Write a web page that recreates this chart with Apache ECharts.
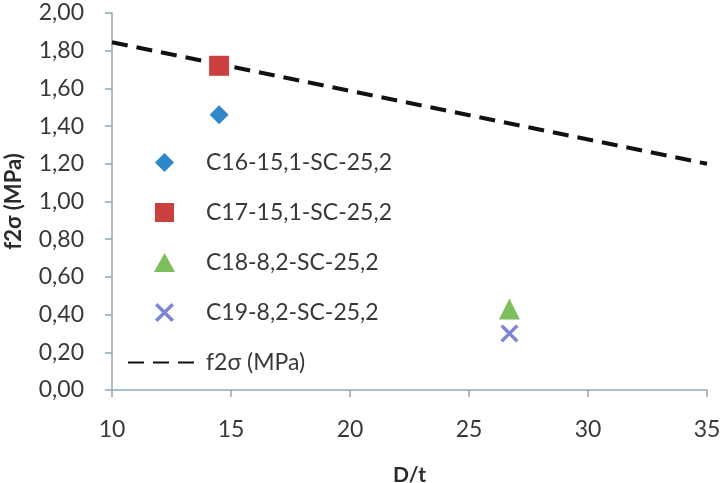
<!DOCTYPE html>
<html><head><meta charset="utf-8">
<script src="https://cdn.jsdelivr.net/npm/echarts@6/dist/echarts.min.js"></script>
<style>html,body{margin:0;padding:0;background:#fff}#c{width:726px;height:483px}</style>
</head><body><div id="c"></div>
<script>
const seriesNames = ['C16-15,1-SC-25,2','C17-15,1-SC-25,2','C18-8,2-SC-25,2','C19-8,2-SC-25,2','f2σ (MPa)'];
const c16 = [[14.5, 1.46]];
const c17 = [[14.5, 1.72]];
const c18 = [[26.7, 0.43]];
const c19 = [[26.7, 0.30]];
const f2sigmaLine = [[10, 1.845], [35, 1.20]];
const xTicks = [10, 15, 20, 25, 30, 35];
const yTicks = [0, 0.2, 0.4, 0.6, 0.8, 1.0, 1.2, 1.4, 1.6, 1.8, 2.0];

const diamondPath = 'path://M5,0L10,5L5,10L0,5Z';
const squarePath = 'path://M0,0L10,0L10,10L0,10Z';
const trianglePath = 'path://M5,0L10,9L0,9Z';
const crossPath = 'path://M0,1.3L1.3,0L5,3.7L8.7,0L10,1.3L6.3,5L10,8.7L8.7,10L5,6.3L1.3,10L0,8.7L3.7,5Z';
const font = 'Lato, "Open Sans", sans-serif';
const axisColor = '#8fabb3';
const textColor = '#383838';
const colors = ['#2f87c9', '#c9403f', '#7dbf5c', '#7d86d6'];

const chart = echarts.init(document.getElementById('c'), null, {renderer: 'canvas'});
chart.setOption({
  animation: false,
  backgroundColor: '#fff',
  grid: {left: 112, right: 19, top: 13, bottom: 93, containLabel: false, outerBoundsMode: 'none'},
  xAxis: {
    type: 'value', min: xTicks[0], max: xTicks[xTicks.length - 1], interval: 5,
    name: 'D/t', nameLocation: 'middle', nameGap: 75,
    nameTextStyle: {fontFamily: font, fontWeight: 'bold', fontSize: 21, color: '#2a2a2a'},
    axisLine: {show: true, lineStyle: {color: axisColor, width: 1.5}},
    axisTick: {show: true, length: 7, lineStyle: {color: axisColor, width: 1.5}},
    axisLabel: {margin: 28, fontFamily: font, fontSize: 23, color: textColor},
    splitLine: {show: false}
  },
  yAxis: {
    type: 'value', min: yTicks[0], max: yTicks[yTicks.length - 1], interval: 0.2,
    name: 'f2σ (MPa)', nameLocation: 'middle', nameGap: 87, nameRotate: 90,
    nameTextStyle: {fontFamily: font, fontWeight: 'bold', fontSize: 22, color: '#2a2a2a'},
    axisLine: {show: true, lineStyle: {color: axisColor, width: 1.5}},
    axisTick: {show: true, length: 7, lineStyle: {color: axisColor, width: 1.5}},
    axisLabel: {margin: 28, fontFamily: font, fontSize: 23, color: textColor,
      formatter: v => v.toFixed(2).replace('.', ',')},
    splitLine: {show: false}
  },
  legend: {
    orient: 'vertical', left: 122, top: 146, itemGap: 27, itemWidth: 73, itemHeight: 19,
    symbolKeepAspect: true,
    textStyle: {fontFamily: font, fontSize: 23, color: textColor},
    data: [
      {name: seriesNames[0], icon: diamondPath, itemStyle: {color: colors[0], opacity: 1}},
      {name: seriesNames[1], icon: squarePath, itemStyle: {color: colors[1], opacity: 1}},
      {name: seriesNames[2], icon: trianglePath, itemStyle: {color: colors[2], opacity: 1}},
      {name: seriesNames[3], icon: crossPath, itemStyle: {color: colors[3], opacity: 1}},
      {name: seriesNames[4], itemStyle: {opacity: 0}}
    ]
  },
  series: [
    {name: seriesNames[0], type: 'scatter', data: c16, symbol: 'diamond', symbolSize: 19, z: 5, itemStyle: {color: colors[0], opacity: 1}},
    {name: seriesNames[1], type: 'scatter', data: c17, symbol: 'rect', symbolSize: 20, z: 5, itemStyle: {color: colors[1], opacity: 1}},
    {name: seriesNames[2], type: 'scatter', data: c18, symbol: trianglePath, symbolSize: 21, z: 5, itemStyle: {color: colors[2], opacity: 1}},
    {name: seriesNames[3], type: 'scatter', data: c19, symbol: crossPath, symbolSize: 18, z: 5, itemStyle: {color: colors[3], opacity: 1}},
    {name: seriesNames[4], type: 'line', data: f2sigmaLine, symbol: 'none', z: 1,
      lineStyle: {color: '#111', width: 4, type: [16, 9]}, itemStyle: {color: '#111'}}
  ]
});
</script>
</body></html>
